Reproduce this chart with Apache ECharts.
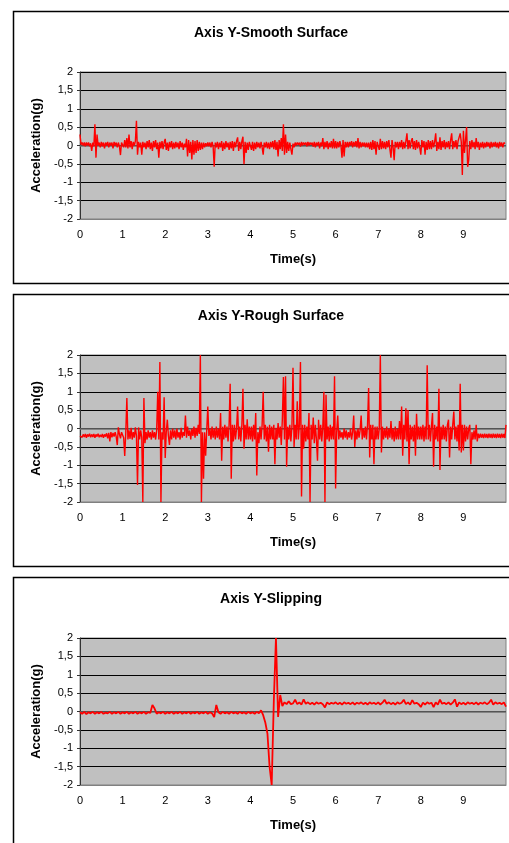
<!DOCTYPE html>
<html lang="en">
<head>
    <meta charset="UTF-8">
    <title>Axis Y</title>
    <style>
        html,
        body {
            margin: 0;
            padding: 0;
            width: 100%;
            height: 100%;
            background: #fff;
        }

        #canvas {
            width: 509px;
            height: 843px;
        }
    </style>
</head>
<body>
<div id="canvas"></div>
<script src="https://cdn.jsdelivr.net/npm/echarts@6/dist/echarts.min.js"></script>
<script>
    const titles = ['Axis Y-Smooth Surface', 'Axis Y-Rough Surface', 'Axis Y-Slipping']

    // samples per second of each record (t = index / rate)
    const sampleRates = [40, 40, 20]

    // acceleration (g), one row per second
    const smooth = [
        0.3, 0.02, 0.08, 0.0, 0.08, -0.02, 0.08, 0.0, 0.08, -0.02, 0.06, -0.15, 0.08, -0.02, 0.58, -0.33, 0.3, 0.0, 0.08, -0.05,
        0.1, -0.02, 0.08, -0.08, 0.08, 0.0, 0.1, -0.05, 0.08, 0.0, 0.08, -0.08, 0.1, 0.0, 0.08, -0.05, 0.08, -0.02, -0.26, 0.08,
        0.1, -0.05, 0.15, -0.05, 0.2, -0.08, 0.3, -0.05, 0.12, -0.1, 0.1, 0.0, 0.12, 0.67, -0.25, 0.1, -0.05, 0.08, -0.25, 0.1,
        -0.05, 0.08, -0.1, 0.12, -0.05, 0.15, -0.1, 0.08, -0.15, 0.12, -0.05, 0.15, -0.1, 0.08, -0.33, 0.1, -0.08, 0.12, -0.1, 0.08,
        0.18, -0.12, 0.08, -0.15, 0.1, -0.05, 0.12, -0.1, 0.08, -0.08, 0.1, -0.05, 0.08, -0.1, 0.12, -0.05, 0.08, -0.12, 0.05, -0.05,
        0.18, -0.3, 0.15, -0.2, 0.1, -0.38, 0.15, -0.25, 0.12, -0.2, 0.15, -0.15, 0.1, -0.12, 0.08, -0.1, 0.08, -0.05, 0.06, -0.02,
        0.08, -0.02, 0.08, -0.05, 0.1, -0.02, -0.58, 0.08, -0.05, 0.1, -0.1, 0.08, -0.05, 0.12, -0.15, 0.08, -0.1, 0.12, -0.05, 0.08,
        -0.12, 0.1, -0.08, 0.12, -0.15, 0.1, -0.05, 0.12, 0.22, -0.15, 0.1, -0.1, 0.12, 0.24, -0.51, 0.1, -0.2, 0.08, -0.12, 0.1,
        0.08, -0.12, 0.1, -0.15, 0.08, -0.1, 0.1, -0.05, 0.08, -0.08, 0.1, -0.05, -0.25, 0.08, -0.05, 0.1, -0.08, 0.08, -0.1, 0.1,
        -0.05, 0.12, -0.1, 0.15, -0.12, 0.1, -0.3, 0.15, -0.1, 0.2, -0.15, 0.58, -0.25, 0.3, -0.2, 0.1, -0.15, 0.08, -0.1, -0.25,
        0.05, -0.05, 0.08, 0.0, 0.08, 0.02, 0.08, -0.03, 0.1, 0.0, 0.08, 0.02, 0.08, -0.02, 0.1, 0.0, 0.08, 0.02, 0.08, -0.03,
        0.1, -0.05, 0.08, 0.0, 0.1, -0.08, 0.08, -0.02, 0.2, -0.1, 0.1, -0.05, 0.12, -0.1, 0.08, -0.05, 0.12, -0.08, 0.18, -0.08,
        0.12, -0.08, 0.1, -0.05, 0.12, 0.0, -0.33, 0.15, -0.3, 0.1, -0.05, 0.1, -0.05, 0.1, 0.0, 0.12, -0.05, 0.1, -0.02, 0.12,
        -0.05, 0.2, -0.08, 0.1, -0.05, 0.08, -0.02, 0.08, -0.05, 0.08, -0.05, 0.08, -0.1, 0.1, -0.12, 0.15, -0.1, 0.12, -0.25, 0.1,
        0.15, -0.12, 0.18, -0.1, 0.12, -0.08, 0.1, -0.1, 0.12, -0.05, 0.15, -0.1, -0.33, 0.15, -0.05, -0.4, 0.1, -0.05, 0.1, -0.1,
        0.1, -0.05, 0.15, -0.1, 0.1, -0.08, 0.12, 0.33, -0.1, 0.15, -0.08, 0.12, 0.2, -0.1, 0.12, -0.12, 0.15, -0.08, 0.1, -0.05,
        -0.25, 0.15, -0.05, 0.12, -0.25, 0.1, -0.12, 0.15, -0.1, 0.12, -0.1, 0.15, -0.05, 0.1, 0.33, -0.15, 0.1, -0.1, 0.22, -0.12,
        0.12, -0.05, 0.15, -0.1, 0.1, -0.05, 0.12, -0.1, 0.15, 0.33, -0.1, 0.12, -0.05, 0.15, -0.1, 0.12, 0.1, 0.33, 0.1, -0.8,
        0.4, -0.2, 0.15, 0.5, -0.58, -0.4, 0.12, -0.1, 0.15, -0.05, 0.1, -0.1, 0.2, -0.05, 0.1, -0.12, 0.08, -0.05, 0.1, -0.08,
        0.08, -0.05, 0.1, -0.02, 0.08, -0.08, 0.1, -0.05, 0.08, -0.02, 0.1, -0.05, 0.08, -0.08, 0.1, -0.02, 0.08, -0.05, 0.08, 0.05
    ]

    const rough = [
        -0.2, -0.15, -0.24, -0.16, -0.23, -0.15, -0.25, -0.16, -0.22, -0.14, -0.24, -0.16, -0.23, -0.15, -0.25, -0.16, -0.22, -0.14, -0.24, -0.17,
        -0.23, -0.15, -0.25, -0.16, -0.22, -0.13, -0.27, -0.12, -0.35, -0.1, -0.24, -0.12, -0.22, -0.1, -0.22, -0.45, 0.03, -0.15, -0.27, -0.1,
        -0.05, -0.25, -0.75, -0.1, 0.83, -0.3, -0.05, -0.28, 0.02, -0.3, -0.1, -0.25, 0.03, -0.2, -1.54, 0.03, -0.3, -0.05, -0.25, -2.0,
        0.83, -0.4, -0.1, -0.3, -0.05, -0.25, -0.1, -0.3, -0.05, -0.25, -0.1, -0.3, -0.05, 1.0, -0.3, 1.81, -2.0, -0.1, -0.3, 0.85,
        -0.8, -0.1, 0.24, -0.2, -0.45, -0.05, -0.3, 0.0, -0.25, -0.05, -0.3, 0.0, -0.25, -0.1, -0.3, 0.02, -0.25, -0.1, -0.2, 0.35,
        -0.25, 0.05, -0.2, -0.05, -0.3, 0.0, -0.2, 0.05, -0.25, 0.02, -0.2, 0.1, -0.15, 2.0, -2.0, -0.1, -1.37, -0.1, -0.74, -0.05,
        0.6, -0.2, 0.0, -0.3, 0.05, -0.25, 0.0, -0.3, 0.05, -0.25, 0.0, -0.3, 0.42, -0.88, 0.05, -0.3, 0.1, -0.25, 0.05, -0.35,
        0.1, 1.22, -1.37, 0.1, -0.35, 0.1, -0.3, 0.0, 0.6, -0.3, 0.05, -0.35, 0.1, 1.08, -0.55, 0.1, -0.3, 0.25, -0.3, 0.05,
        -0.3, 0.05, -0.35, 0.1, -0.3, 0.42, -1.28, -0.1, -0.4, 0.05, -0.3, 0.1, 1.0, -0.3, 0.1, -0.35, 0.05, -0.63, 0.1, -0.3,
        0.05, -0.3, 0.1, -0.97, 0.02, -0.3, 0.15, -0.25, 0.05, -0.45, 0.25, 1.4, -0.3, 1.42, -1.04, 0.05, -0.3, 0.1, -0.35, 0.05,
        1.65, -0.5, 0.1, -0.3, 0.74, -0.3, 0.1, 1.81, -1.85, 0.1, -0.55, 0.1, -0.35, 0.05, -0.3, 0.42, -2.0, 0.1, -0.3, 0.3,
        -0.4, 0.1, -0.3, -0.88, 0.24, -0.3, 0.1, -0.35, 0.05, 1.0, -2.0, 0.92, -0.3, 0.05, -0.35, 0.1, -0.3, 0.05, -0.3, 1.42,
        -1.63, -0.1, 0.35, -0.3, -0.05, -0.25, -0.1, -0.3, 0.0, -0.25, -0.05, -0.3, -0.1, -0.25, 0.0, -0.3, -0.1, 0.35, -0.5, -0.05,
        -0.3, 0.0, -0.25, -0.05, 0.35, -0.3, 0.0, -0.25, 0.05, -0.3, 0.1, 1.1, -0.79, 0.1, -0.3, 0.1, -0.97, 0.05, -0.3, 0.05,
        -0.3, 0.0, 2.0, -0.65, 0.05, -0.3, 0.0, -0.25, 0.05, -0.3, 0.0, -0.25, 0.2, -0.3, 0.0, -0.35, 0.05, -0.3, 0.0, -0.3,
        0.2, -0.3, 0.6, -0.74, 0.1, -0.3, 0.55, -0.35, 0.5, -0.97, 0.1, -0.3, 0.05, -0.35, 0.1, -0.74, 0.4, -0.3, 0.05, -0.3,
        0.05, -0.3, 0.1, -0.35, 0.05, -0.3, 1.72, -0.3, 0.1, -0.35, 0.05, 0.42, -1.04, 0.1, -0.3, 0.05, -0.35, 1.08, -1.13, 0.05,
        -0.3, 0.1, -0.3, 0.05, -0.35, 0.1, 0.24, -0.79, 0.05, -0.3, 0.1, 0.46, -0.3, 0.05, -0.35, 0.1, -0.6, 1.22, -0.65, 0.1,
        -0.6, 0.1, -0.35, 0.05, -0.3, 0.0, 0.1, -0.97, -0.1, -0.3, -0.05, -0.3, 0.1, -0.35, -0.14, -0.26, -0.14, -0.25, -0.15, -0.26,
        -0.14, -0.25, -0.15, -0.26, -0.14, -0.25, -0.15, -0.26, -0.14, -0.25, -0.15, -0.26, -0.14, -0.25, -0.15, -0.26, -0.14, -0.25, -0.15, -0.26,
        0.1
    ]

    const slipping = [
        -0.02, -0.06, -0.01, -0.07, -0.02, -0.05, -0.01, -0.06, -0.02, -0.05, -0.01, -0.06, -0.03, -0.05, -0.01, -0.06, -0.02, -0.05, -0.01, -0.06,
        -0.02, -0.05, -0.01, -0.06, -0.02, -0.05, -0.01, -0.06, -0.02, -0.05, -0.01, -0.06, -0.02, -0.04, 0.18, 0.08, -0.06, -0.02, -0.05, -0.01,
        -0.06, -0.02, -0.05, -0.01, -0.06, -0.02, -0.05, -0.01, -0.06, -0.02, -0.05, -0.01, -0.06, -0.02, -0.05, -0.01, -0.06, -0.02, -0.05, -0.01,
        -0.06, -0.02, -0.05, -0.15, 0.18, -0.02, -0.06, -0.01, -0.05, -0.02, -0.06, -0.01, -0.05, -0.02, -0.06, -0.01, -0.05, -0.02, -0.06, -0.01,
        -0.05, -0.02, -0.06, -0.01, -0.05, 0.03, -0.1, -0.3, -0.6, -1.5, -2.0, 0.3, 2.0, -0.15, 0.45, 0.15, 0.25, 0.2, 0.28, 0.2,
        0.22, 0.32, 0.2, 0.25, 0.19, 0.33, 0.21, 0.25, 0.2, 0.24, 0.19, 0.25, 0.21, 0.24, 0.2, 0.11, 0.25, 0.2, 0.24, 0.21,
        0.25, 0.2, 0.24, 0.19, 0.25, 0.21, 0.24, 0.2, 0.25, 0.19, 0.24, 0.21, 0.25, 0.2, 0.24, 0.19, 0.25, 0.21, 0.24, 0.2,
        0.25, 0.19, 0.24, 0.32, 0.21, 0.25, 0.2, 0.24, 0.19, 0.25, 0.21, 0.24, 0.32, 0.2, 0.25, 0.19, 0.31, 0.21, 0.24, 0.2,
        0.12, 0.24, 0.19, 0.25, 0.21, 0.24, 0.12, 0.25, 0.19, 0.32, 0.21, 0.24, 0.2, 0.25, 0.19, 0.24, 0.33, 0.13, 0.25, 0.2,
        0.24, 0.19, 0.25, 0.21, 0.24, 0.2, 0.25, 0.19, 0.24, 0.21, 0.25, 0.2, 0.24, 0.32, 0.19, 0.25, 0.21, 0.24, 0.2, 0.25,
        0.13
    ]

    const allData = [smooth, rough, slipping]

    const panelTops = [11, 294, 577]
    const gridTops = [72, 355, 638]
    const font = '"Liberation Sans", Arial, sans-serif'

    const myChart = echarts.init(document.getElementById('canvas'))

    const grid = []
    const xAxis = []
    const yAxis = []
    const series = []
    const title = []
    const graphic = []

    allData.forEach((values, i) => {
        graphic.push({
            type: 'rect',
            silent: true,
            z: -10,
            shape: { x: 13.5, y: panelTops[i] + 0.5, width: 520, height: i === 2 ? 320 : 272 },
            style: { fill: '#fff', stroke: '#000', lineWidth: 1.5 }
        })
        title.push({
            text: titles[i],
            left: 266,
            top: panelTops[i] + 10,
            textAlign: 'center',
            textStyle: { fontFamily: font, fontSize: 14, fontWeight: 'bold', color: '#000' }
        })
        grid.push({
            left: 80,
            width: 428,
            top: gridTops[i],
            height: 147,
            show: true,
            backgroundColor: '#c0c0c0',
            borderColor: '#808080',
            borderWidth: 1
        })
        xAxis.push({
            type: 'value',
            gridIndex: i,
            min: 0,
            max: 10,
            interval: 1,
            name: 'Time(s)',
            nameLocation: 'middle',
            nameGap: 34,
            nameTextStyle: { fontFamily: font, fontSize: 13, fontWeight: 'bold', color: '#000' },
            axisLine: { show: true, onZero: false, lineStyle: { color: '#808080' } },
            axisTick: { show: false },
            splitLine: { show: false },
            axisLabel: {
                fontFamily: font,
                fontSize: 11,
                color: '#000',
                margin: 10,
                formatter: v => (v === 10 ? '' : String(v))
            }
        })
        yAxis.push({
            type: 'value',
            gridIndex: i,
            min: -2,
            max: 2,
            interval: 0.5,
            name: 'Acceleration(g)',
            nameLocation: 'middle',
            nameGap: 36,
            nameTextStyle: { fontFamily: font, fontSize: 13, fontWeight: 'bold', color: '#000' },
            axisLine: { show: true, lineStyle: { color: '#333' } },
            axisTick: { show: true, length: 3, lineStyle: { color: '#333' } },
            splitLine: { show: true, lineStyle: { color: '#000', width: 1 } },
            axisLabel: {
                fontFamily: font,
                fontSize: 11,
                color: '#000',
                margin: 7,
                formatter: v => String(v).replace('.', ',')
            }
        })
        series.push({
            type: 'line',
            xAxisIndex: i,
            yAxisIndex: i,
            data: values.map((v, k) => [k / sampleRates[i], v]),
            showSymbol: false,
            symbol: 'none',
            animation: false,
            lineStyle: { color: '#ff0000', width: i === 2 ? 1.8 : 1.4 },
            markLine: {
                silent: true,
                symbol: 'none',
                label: { show: false },
                lineStyle: { color: '#707070', width: 1.5, type: 'solid' },
                data: [{ yAxis: 0 }],
                z: 1
            }
        })
    })

    myChart.setOption({
        animation: false,
        backgroundColor: '#fff',
        graphic,
        title,
        grid,
        xAxis,
        yAxis,
        series
    })
</script>
</body>
</html>
